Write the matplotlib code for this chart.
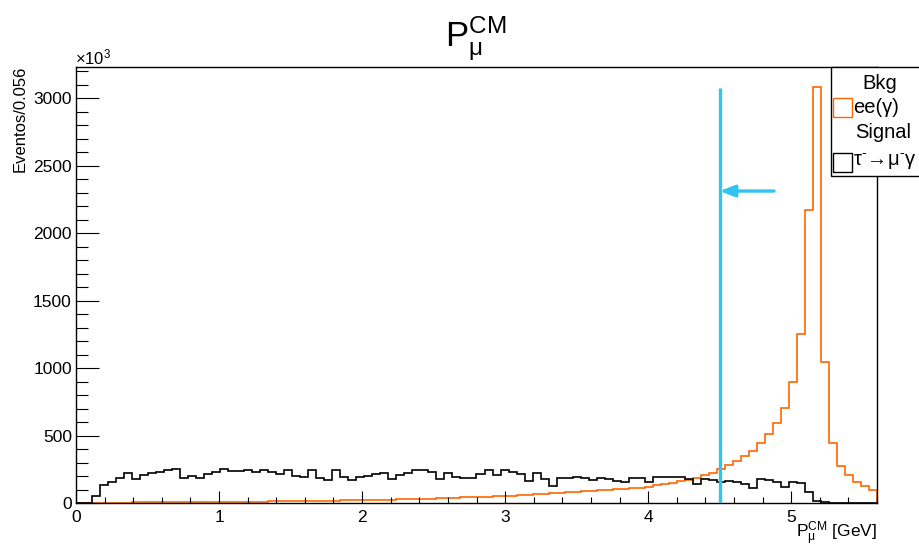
"""
Muon momentum in the CM frame: background ee(gamma) vs tau -> mu gamma signal,
with the cut position marked.
"""

import numpy as np
import matplotlib.pyplot as plt
from matplotlib.patches import Rectangle

plt.rcParams["font.family"] = ["Liberation Sans", "DejaVu Sans"]
plt.rcParams["mathtext.fontset"] = "custom"
plt.rcParams["mathtext.rm"] = "Liberation Sans"
plt.rcParams["mathtext.it"] = "Liberation Sans"
plt.rcParams["mathtext.sf"] = "Liberation Sans"

# 100 bins of 0.056 GeV between 0 and 5.6 GeV (counts in units of 10^3)
bin_edges = np.linspace(0.0, 5.6, 101)

bkg_counts = [
    0, 0, 4, 4, 5, 5, 5, 6, 6, 6,
    7, 7, 7, 8, 8, 9, 9, 10, 10, 11,
    11, 12, 12, 13, 14, 14, 15, 16, 16, 17,
    18, 19, 20, 21, 22, 23, 24, 25, 26, 27,
    29, 30, 32, 33, 35, 37, 39, 41, 43, 45,
    47, 50, 52, 55, 57, 60, 63, 66, 70, 73,
    77, 80, 84, 88, 92, 96, 100, 104, 108, 112,
    116, 123, 133, 143, 153, 162, 172, 190, 209, 226,
    251, 281, 312, 349, 391, 448, 514, 596, 709, 900,
    1255, 2170, 3080, 1050, 450, 275, 207, 155, 125, 98,
]

sig_counts = [
    0, 0, 54, 135, 160, 185, 226, 177, 209, 221,
    234, 243, 253, 185, 199, 185, 219, 229, 251, 239,
    239, 243, 234, 246, 234, 214, 246, 204, 194, 247,
    185, 172, 246, 194, 170, 194, 202, 214, 221, 177,
    209, 226, 243, 248, 234, 177, 221, 194, 189, 189,
    219, 248, 209, 248, 234, 214, 165, 226, 177, 128,
    185, 189, 194, 185, 172, 185, 177, 165, 160, 189,
    187, 155, 194, 194, 194, 192, 182, 145, 180, 170,
    160, 167, 160, 140, 116, 180, 173, 160, 120, 157,
    148, 82, 20, 6, 0, 0, 0, 0, 0, 0,
]

cut_value = 4.5
cut_top = 3076
arrow_start = 4.88
arrow_level = 2313

ORANGE = "#ff6600"
AZURE = "#33c3f0"

fig = plt.figure(figsize=(9.19, 5.48), dpi=100)
ax = fig.add_axes([76 / 919, 44.7 / 548, 801 / 919, 436.6 / 548])

ax.stairs(bkg_counts, bin_edges, color=ORANGE, linewidth=1.2, baseline=0)
ax.stairs(sig_counts, bin_edges, color="black", linewidth=1.2, baseline=0)

# cut line with arrow pointing to the kept region
ax.vlines(cut_value, 0, cut_top, color=AZURE, linewidth=2.4, zorder=5)
ax.annotate("", xy=(cut_value, arrow_level), xytext=(arrow_start, arrow_level),
            arrowprops=dict(arrowstyle="-|>,head_length=0.9,head_width=0.35",
                            color=AZURE, linewidth=2.4, shrinkA=0, shrinkB=0),
            zorder=5)

ax.set_xlim(bin_edges[0], bin_edges[-1])
ax.set_ylim(0, 1.05 * max(bkg_counts))

ax.set_xticks(np.arange(0, 6, 1))
ax.set_xticks(np.arange(0, 5.61, 0.2), minor=True)
ax.set_yticks(np.arange(0, 3001, 500))
ax.set_yticks(np.arange(0, 3201, 100), minor=True)

ax.tick_params(axis="both", which="both", direction="in", top=False, right=False,
               width=0.8, labelsize=12.5)
ax.tick_params(axis="x", which="major", length=8.6, pad=5)
ax.tick_params(axis="x", which="minor", length=4.3)
ax.tick_params(axis="y", which="major", length=16.6, pad=3)
ax.tick_params(axis="y", which="minor", length=8.6)
for side in ax.spines.values():
    side.set_linewidth(1.0)

fig.text(476 / 919, 1 - 47 / 548, r"$\mathregular{P_{\mu}^{CM}}$",
         ha="center", va="baseline", fontsize=25)
fig.text(75 / 919, 1 - 64 / 548, r"$\mathregular{\times10^{3}}$",
         ha="left", va="baseline", fontsize=12)
fig.text(20 / 919, 1 - 66 / 548, "Eventos/0.056", rotation=90,
         ha="center", va="top", fontsize=12)
fig.text(877 / 919, 1 - 538 / 548, r"$\mathregular{P_{\mu}^{CM}}$ [GeV]",
         ha="right", va="baseline", fontsize=12.5)

# legend box, partly running off the right edge
leg = fig.add_axes([831 / 919, 1 - 176 / 548, 100 / 919, 109 / 548])
leg.set_xlim(0, 100)
leg.set_ylim(109, 0)
leg.axis("off")
leg.add_patch(Rectangle((0, 0), 100, 109, facecolor="white", edgecolor="black",
                        linewidth=1.0, clip_on=False))
leg.text(49, 16, "Bkg", ha="center", va="center", fontsize=14.5)
leg.add_patch(Rectangle((2, 31), 19, 19, facecolor="none", edgecolor=ORANGE,
                        linewidth=1.0))
leg.text(22, 40, "ee(γ)", ha="left", va="center", fontsize=14.5)
leg.text(52, 66, "Signal", ha="center", va="center", fontsize=14.5)
leg.add_patch(Rectangle((2, 86), 19, 19, facecolor="none", edgecolor="black",
                        linewidth=1.0))
leg.text(22, 95,
         r"$\mathregular{\tau^{\text{-}}\!\rightarrow\!\mu^{\text{-}}\gamma}$",
         ha="left", va="center", fontsize=14.5)

fig.savefig("out.png", dpi=100)
